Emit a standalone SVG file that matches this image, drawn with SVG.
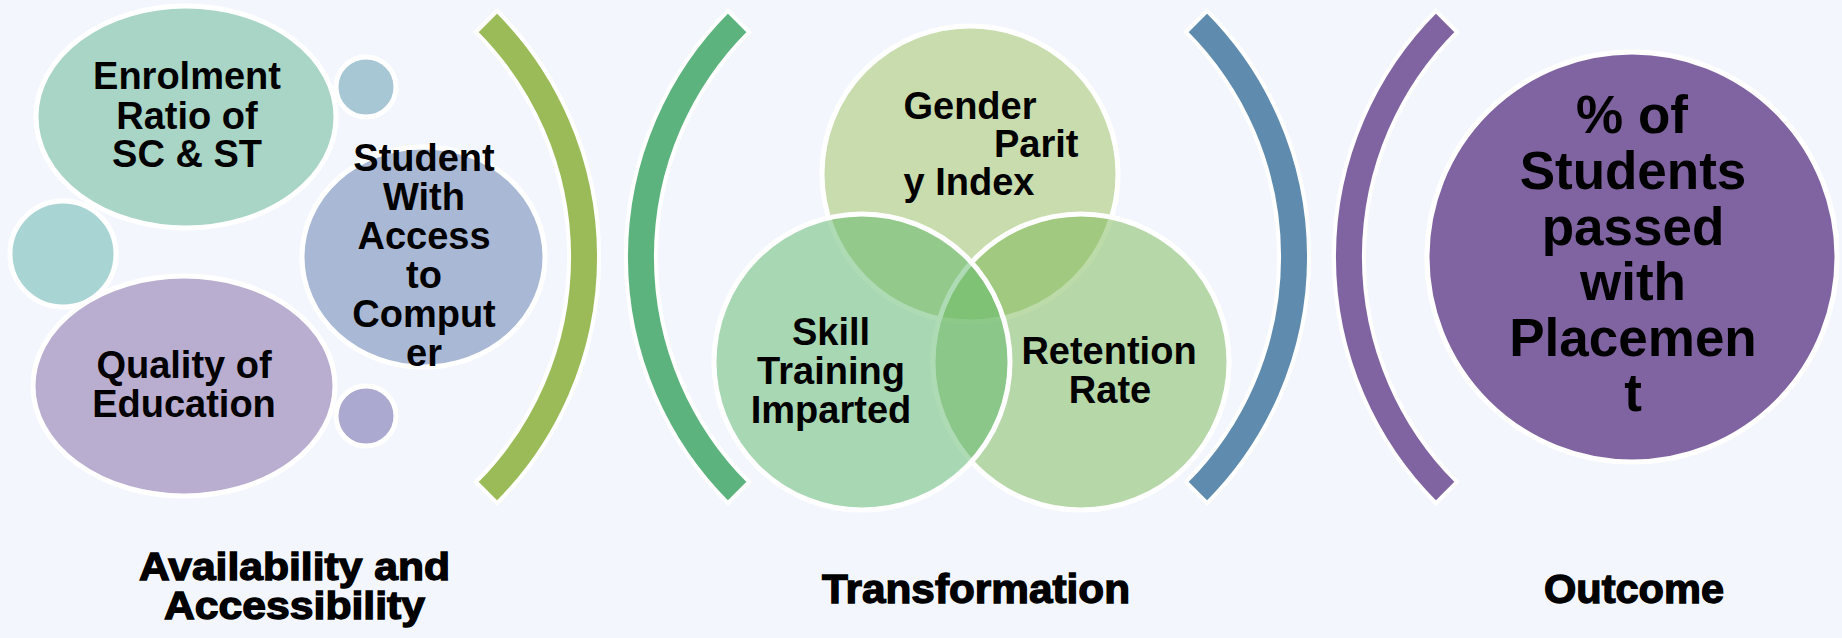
<svg xmlns="http://www.w3.org/2000/svg" width="1842" height="638" viewBox="0 0 1842 638">
<style>
.node{stroke:#fff;stroke-width:5}
.arc{stroke:#fff;stroke-width:4;stroke-linejoin:miter}
.t{font-family:"Liberation Sans",Arial,sans-serif;font-weight:bold;font-size:38px;fill:#000;text-anchor:middle}
.big{font-size:53px}
.lbl{font-family:"Liberation Sans",Arial,sans-serif;font-weight:bold;fill:#000;stroke:#000;stroke-width:1.3;text-anchor:middle}
.venn{fill-opacity:0.5}
</style>
<rect width="1842" height="638" fill="#F3F7FD"/>

<g id="arcs">
  <path class="arc" fill="#9BBB59" d="M497.1,10.9 A348,348 0 0 1 497.1,503.1 L475.9,481.9 A318,318 0 0 0 475.9,32.1 Z"/>
  <path class="arc" fill="#5DB37E" d="M727.9,10.9 A348,348 0 0 0 727.9,503.1 L749.1,481.9 A318,318 0 0 1 749.1,32.1 Z"/>
  <path class="arc" fill="#5F8CAE" d="M1207.1,10.9 A348,348 0 0 1 1207.1,503.1 L1185.9,481.9 A318,318 0 0 0 1185.9,32.1 Z"/>
  <path class="arc" fill="#8064A2" d="M1435.9,10.9 A348,348 0 0 0 1435.9,503.1 L1457.1,481.9 A318,318 0 0 1 1457.1,32.1 Z"/>
</g>

<g id="small-top"><circle class="node" cx="366" cy="87" r="30" fill="#A8C7D5"/></g>
<g id="small-left"><circle class="node" cx="63" cy="254" r="53" fill="#A8D5D4"/></g>
<g id="small-bottom"><circle class="node" cx="366" cy="416" r="30" fill="#ABA9D0"/></g>

<g id="enrolment">
  <ellipse class="node" cx="186" cy="117" rx="150" ry="111" fill="#A8D5C5"/>
  <text class="t" x="187" y="89">Enrolment</text>
  <text class="t" x="187" y="129">Ratio of</text>
  <text class="t" x="187" y="167">SC &amp; ST</text>
</g>

<g id="quality">
  <ellipse class="node" cx="184" cy="386" rx="151" ry="110" fill="#B9ADD0"/>
  <text class="t" x="184" y="378">Quality of</text>
  <text class="t" x="184" y="417">Education</text>
</g>

<g id="student">
  <ellipse class="node" cx="423.5" cy="257" rx="121.5" ry="110" fill="#A9B9D5"/>
  <text class="t" x="424" y="171">Student</text>
  <text class="t" x="424" y="210">With</text>
  <text class="t" x="424" y="249">Access</text>
  <text class="t" x="424" y="288">to</text>
  <text class="t" x="424" y="327">Comput</text>
  <text class="t" x="424" y="366">er</text>
</g>

<g id="gender">
  <circle class="node venn" cx="970" cy="174" r="148" fill="#9FC15D"/>
</g>
<g id="retention">
  <circle class="node venn" cx="1081" cy="362" r="148" fill="#79B753"/>
</g>
<g id="skill">
  <circle class="node venn" cx="862" cy="362" r="148" fill="#5DB769"/>
</g>
<g id="venn-labels">
  <text class="t" x="970" y="119">Gender</text>
  <text class="t" x="994" y="157" style="text-anchor:start">Parit</text>
  <text class="t" x="969" y="195">y Index</text>
  <text class="t" x="831" y="345">Skill</text>
  <text class="t" x="831" y="384">Training</text>
  <text class="t" x="831" y="423">Imparted</text>
  <text class="t" x="1109" y="364">Retention</text>
  <text class="t" x="1110" y="403">Rate</text>
</g>

<g id="outcome-node">
  <circle class="node" cx="1632" cy="257" r="205" fill="#8064A2"/>
  <text class="t big" x="1632" y="133">% of</text>
  <text class="t big" x="1633" y="189">Students</text>
  <text class="t big" x="1633" y="245">passed</text>
  <text class="t big" x="1633" y="300">with</text>
  <text class="t big" x="1633" y="356">Placemen</text>
  <text class="t big" x="1633" y="411">t</text>
</g>

<g id="labels">
  <text class="lbl" x="294.5" y="580" font-size="38" textLength="311" lengthAdjust="spacingAndGlyphs">Availability and</text>
  <text class="lbl" x="294.5" y="619" font-size="38" textLength="261" lengthAdjust="spacingAndGlyphs">Accessibility</text>
  <text class="lbl" x="976" y="603" font-size="40" textLength="308" lengthAdjust="spacingAndGlyphs">Transformation</text>
  <text class="lbl" x="1634" y="603" font-size="40" textLength="180" lengthAdjust="spacingAndGlyphs">Outcome</text>
</g>
</svg>
